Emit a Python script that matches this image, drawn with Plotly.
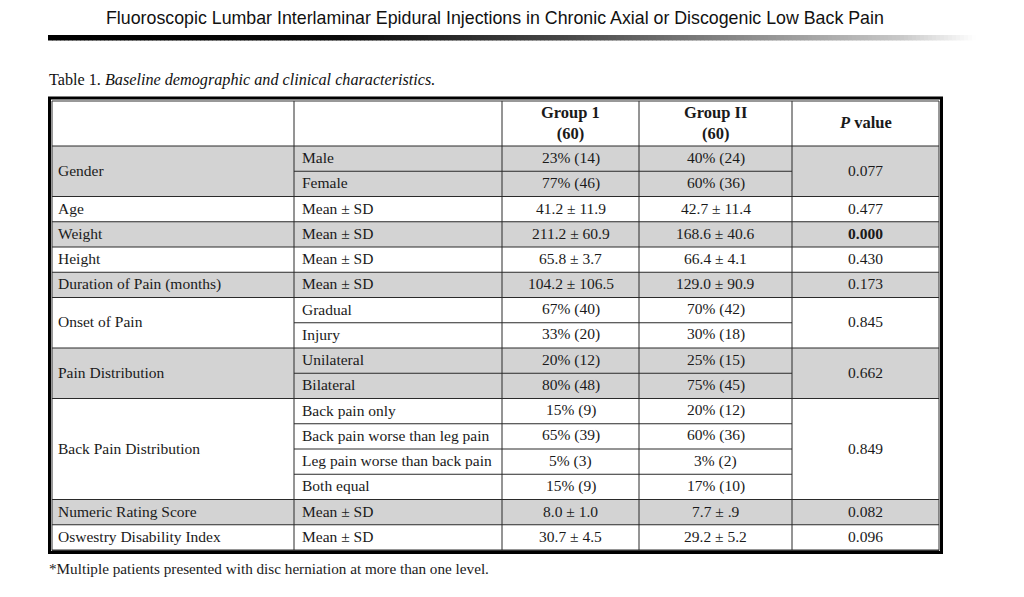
import plotly.graph_objects as go

# ---------------- data ----------------
page_title = "Fluoroscopic Lumbar Interlaminar Epidural Injections in Chronic Axial or Discogenic Low Back Pain"
table_label = "Table 1."
table_caption = "Baseline demographic and clinical characteristics."
footnote = "*Multiple patients presented with disc herniation at more than one level."

col_headers = ["", "", "Group 1|(60)", "Group II|(60)", "P value"]

variables = ["Gender", "Age", "Weight", "Height", "Duration of Pain (months)",
             "Onset of Pain", "Pain Distribution", "Back Pain Distribution",
             "Numeric Rating Score", "Oswestry Disability Index"]
subcategories = [["Male", "Female"], ["Mean ± SD"], ["Mean ± SD"], ["Mean ± SD"], ["Mean ± SD"],
                 ["Gradual", "Injury"], ["Unilateral", "Bilateral"],
                 ["Back pain only", "Back pain worse than leg pain",
                  "Leg pain worse than back pain", "Both equal"],
                 ["Mean ± SD"], ["Mean ± SD"]]
group1_values = [["23% (14)", "77% (46)"], ["41.2 ± 11.9"], ["211.2 ± 60.9"], ["65.8 ± 3.7"],
                 ["104.2 ± 106.5"], ["67% (40)", "33% (20)"], ["20% (12)", "80% (48)"],
                 ["15% (9)", "65% (39)", "5% (3)", "15% (9)"], ["8.0 ± 1.0"], ["30.7 ± 4.5"]]
group2_values = [["40% (24)", "60% (36)"], ["42.7 ± 11.4"], ["168.6 ± 40.6"], ["66.4 ± 4.1"],
                 ["129.0 ± 90.9"], ["70% (42)", "30% (18)"], ["25% (15)", "75% (45)"],
                 ["20% (12)", "60% (36)", "3% (2)", "17% (10)"], ["7.7 ± .9"], ["29.2 ± 5.2"]]
p_values = ["0.077", "0.477", "0.000", "0.430", "0.173", "0.845", "0.662", "0.849", "0.082", "0.096"]
p_bold = [False, False, True, False, False, False, False, False, False, False]

# ---------------- layout geometry (pixels) ----------------
W, H = 1024, 597
col_x = [52, 294, 502, 639, 792, 939]
header_top, header_bot = 101, 146
row_h = (550 - header_bot) / 16.0
SERIF = "Liberation Serif, Times New Roman, serif"
SANS = "Liberation Sans, Arial, sans-serif"
GRAY = "#d3d3d3"
LINE = "#2a2a2a"
BODY_SIZE = 15.5
TEXT_DY = -1.0

shapes = []
annotations = []

def hline(x0, x1, y, color=LINE, w=1):
    shapes.append(dict(type="line", xref="x", yref="y", x0=x0, x1=x1, y0=y, y1=y,
                       line=dict(color=color, width=w)))

def vline(x, y0, y1, color=LINE, w=1):
    shapes.append(dict(type="line", xref="x", yref="y", x0=x, x1=x, y0=y0, y1=y1,
                       line=dict(color=color, width=w)))

def text(x, y, s, anchor="center", size=BODY_SIZE, family=SERIF, color="#1a1a1a"):
    annotations.append(dict(x=x, y=y, xref="x", yref="y", text=s, showarrow=False,
                            xanchor=anchor, yanchor="middle",
                            font=dict(family=family, size=size, color=color)))

# gradient rule under the running title
gx0, gx1 = 48, 976
def grad_val(x):
    stops = [(48, 0), (340, 10), (560, 70), (800, 160), (900, 200), (976, 255)]
    for (a, va), (b, vb) in zip(stops[:-1], stops[1:]):
        if a <= x <= b:
            return va + (vb - va) * (x - a) / (b - a)
    return 255
step = 4
x = gx0
while x < gx1:
    v = int(round(grad_val(x + step / 2)))
    shapes.append(dict(type="rect", xref="x", yref="y", x0=x, x1=x + step + 0.5, y0=35, y1=40.5,
                       fillcolor=f"rgb({v},{v},{v})", line=dict(width=0), layer="below"))
    x += step

# running title
text(495, 18, page_title, size=17.8, family=SANS, color="#111111")
# caption
annotations.append(dict(x=47, y=80, xref="x", yref="y", showarrow=False, xanchor="left",
                        yanchor="middle",
                        text=f"{table_label} <i>{table_caption}</i>",
                        font=dict(family=SERIF, size=16.2, color="#111111")))

# shaded rows (alternate by variable) and body text
row = 0
for i, var in enumerate(variables):
    n = len(subcategories[i])
    y0 = header_bot + row * row_h
    y1 = y0 + n * row_h
    if i % 2 == 0:
        shapes.append(dict(type="rect", xref="x", yref="y", x0=col_x[0], x1=col_x[-1],
                           y0=y0, y1=y1, fillcolor=GRAY, line=dict(width=0), layer="below"))
    text(col_x[0] + 4, (y0 + y1) / 2 + TEXT_DY, var, anchor="left")
    pv = f"<b>{p_values[i]}</b>" if p_bold[i] else p_values[i]
    text((col_x[4] + col_x[5]) / 2, (y0 + y1) / 2 + TEXT_DY, pv)
    for j in range(n):
        yc = y0 + (j + 0.5) * row_h + TEXT_DY
        text(col_x[1] + 6, yc, subcategories[i][j], anchor="left")
        text((col_x[2] + col_x[3]) / 2, yc, group1_values[i][j])
        text((col_x[3] + col_x[4]) / 2, yc, group2_values[i][j])
        if j > 0:
            hline(col_x[1], col_x[4], y0 + j * row_h)
    hline(col_x[0], col_x[-1], y1)
    row += n

# header
hline(col_x[0], col_x[-1], header_bot)
for k, h in enumerate(col_headers):
    if not h:
        continue
    xc = (col_x[k] + col_x[k + 1]) / 2
    if k == 4:
        parts = h.split(" ", 1)
        s = f"<b><i>{parts[0]}</i> {parts[1]}</b>"
    else:
        s = "<br>".join(f"<b>{p}</b>" for p in h.split("|"))
    text(xc, (header_top + header_bot) / 2 - 1, s, size=16.5)

# vertical rules
for xv in col_x[1:-1]:
    vline(xv, header_top, 550)

# double frame
shapes.append(dict(type="rect", xref="x", yref="y", x0=52, x1=939, y0=101, y1=550.5,
                   line=dict(color="#333333", width=1)))
shapes.append(dict(type="rect", xref="x", yref="y", x0=49.5, x1=941.5, y0=98, y1=552.5,
                   line=dict(color="#000000", width=3)))

# footnote
text(47, 568, footnote, anchor="left", size=15.2)

fig = go.Figure(go.Scatter(x=[], y=[], mode="markers"))
fig.update_layout(
    width=W, height=H, margin=dict(l=0, r=0, t=0, b=0),
    paper_bgcolor="white", plot_bgcolor="white", showlegend=False,
    xaxis=dict(range=[0, W], visible=False, fixedrange=True),
    yaxis=dict(range=[H, 0], visible=False, fixedrange=True),
    shapes=shapes, annotations=annotations,
)
fig.write_html("out.html", config={"displayModeBar": False},
               post_script="document.body.style.margin='0';document.body.style.overflow='hidden';")
